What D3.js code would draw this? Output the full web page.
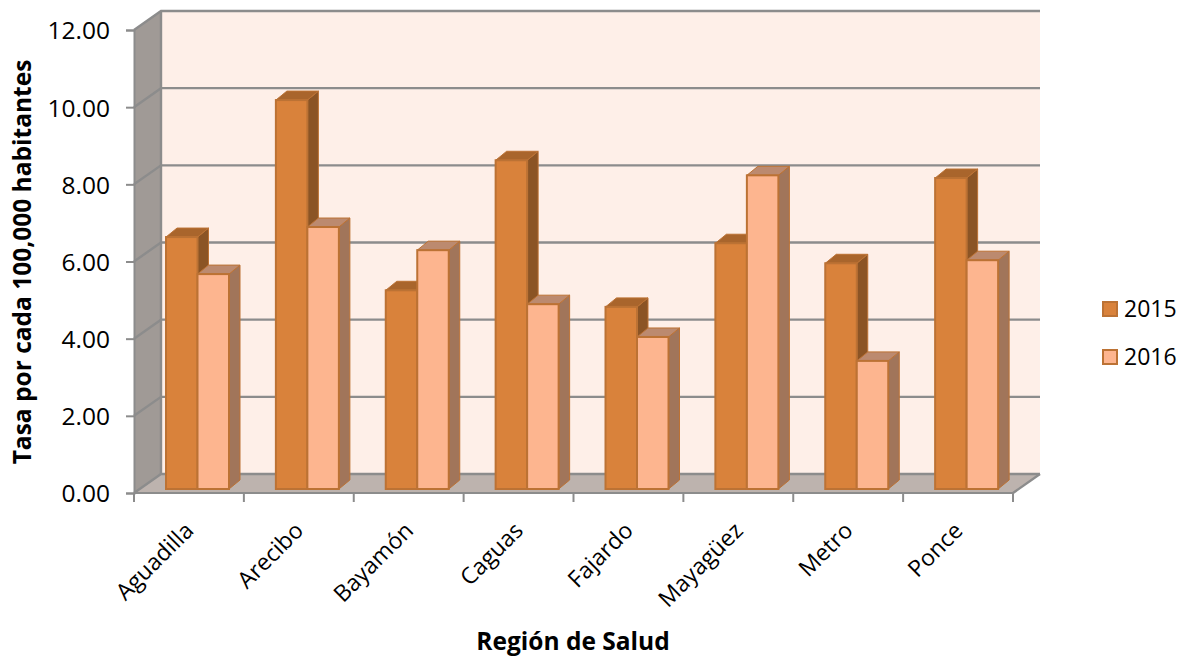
<!DOCTYPE html>
<html><head><meta charset="utf-8">
<script src="https://cdn.jsdelivr.net/npm/d3@7"></script>
<style>html,body{margin:0;background:#fff}svg{display:block}text{font-family:"Open Sans",sans-serif;fill:#000}</style>
</head><body><svg id="c" width="1185" height="656"></svg>
<script>
const categories=["Aguadilla","Arecibo","Bayamón","Caguas","Fajardo","Mayagüez","Metro","Ponce"];
const series2015=[6.53,10.08,5.15,8.52,4.72,6.37,5.85,8.06];
const series2016=[5.57,6.79,6.19,4.79,3.94,8.13,3.32,5.93];
const seriesNames=["2015","2016"];
const yTicks=[0,2,4,6,8,10,12];
const titleY="Tasa por cada 100,000 habitantes";
const titleX="Región de Salud";

const W={x0:134,x1:1013,y0:493,y1:30,dx:27,dy:-19};
const svg=d3.select("#c");
const x=d3.scaleBand().domain(categories).range([W.x0,W.x1]);
const y=d3.scaleLinear().domain([0,12]).range([W.y0,W.y1]);
const barBase=-4;
const sub=d3.scaleBand().domain(seriesNames).range([32,95]);
const bd={dx:11,dy:-9};
const colors={
 "2015":{front:"#D9823B",top:"#A9652C",side:"#8B5425"},
 "2016":{front:"#FDB58F",top:"#BC8A6F",side:"#A1755A"}};
const stroke="#BC7234";
const poly=p=>p.map(a=>a.join(",")).join(" ");

svg.append("polygon").attr("fill","#FEEFE8").attr("points",poly([[W.x0+W.dx,W.y1+W.dy],[W.x1+W.dx,W.y1+W.dy],[W.x1+W.dx,W.y0+W.dy],[W.x0+W.dx,W.y0+W.dy]]));
svg.append("polygon").attr("fill","#A09A96").attr("points",poly([[W.x0,W.y1],[W.x0+W.dx,W.y1+W.dy],[W.x0+W.dx,W.y0+W.dy],[W.x0,W.y0]]));
svg.append("polygon").attr("fill","#BDB3AE").attr("points",poly([[W.x0,W.y0],[W.x0+W.dx,W.y0+W.dy],[W.x1+W.dx,W.y0+W.dy],[W.x1,W.y0]]));

const grid=svg.append("g").attr("fill","none").attr("stroke","#8C8C8C").attr("stroke-width",2.4);
grid.selectAll("polyline").data(yTicks).join("polyline")
 .attr("points",d=>poly([[W.x0,y(d)],[W.x0+W.dx,y(d)+W.dy],[W.x1+W.dx,y(d)+W.dy]]));
grid.append("line").attr("x1",W.x0+W.dx).attr("x2",W.x0+W.dx).attr("y1",W.y1+W.dy).attr("y2",W.y0+W.dy);
grid.append("line").attr("x1",W.x1).attr("x2",W.x1+W.dx).attr("y1",W.y0).attr("y2",W.y0+W.dy);

const rows=categories.flatMap((c,i)=>[{c,s:"2015",v:series2015[i]},{c,s:"2016",v:series2016[i]}]);
const bars=svg.append("g").selectAll("g").data(rows).join("g");
const X0=d=>x(d.c)+sub(d.s), X1=d=>X0(d)+sub.bandwidth(), T=d=>y(d.v)+barBase, B=()=>y(0)+barBase;
bars.append("polygon").attr("fill",d=>colors[d.s].side).attr("stroke",stroke).attr("stroke-width",1)
 .attr("points",d=>poly([[X1(d),T(d)],[X1(d)+bd.dx,T(d)+bd.dy],[X1(d)+bd.dx,B()+bd.dy],[X1(d),B()]]));
bars.append("polygon").attr("fill",d=>colors[d.s].top).attr("stroke",stroke).attr("stroke-width",1)
 .attr("points",d=>poly([[X0(d),T(d)],[X0(d)+bd.dx,T(d)+bd.dy],[X1(d)+bd.dx,T(d)+bd.dy],[X1(d),T(d)]]));
bars.append("rect").attr("fill",d=>colors[d.s].front).attr("stroke",stroke).attr("stroke-width",2)
 .attr("x",X0).attr("y",T).attr("width",sub.bandwidth()).attr("height",d=>B()-T(d));

const ay=svg.append("g").attr("transform",`translate(${W.x0},0)`)
 .call(d3.axisLeft(y).tickValues(yTicks).tickFormat(d3.format(".2f")).tickSize(8).tickPadding(16));
const ax=svg.append("g").attr("transform",`translate(0,${W.y0})`)
 .call(d3.axisBottom(x).tickSize(0).tickFormat(d=>d));
ax.selectAll(".tick line").remove();
ax.select(".domain").remove();
const xEdges=d3.range(categories.length+1).map(i=>W.x0+i*x.bandwidth());
ax.selectAll("line.t").data(xEdges).join("line").attr("class","t").attr("x1",d=>d).attr("x2",d=>d).attr("y1",0).attr("y2",9).attr("stroke","#8C8C8C").attr("stroke-width",2);
ax.append("line").attr("x1",W.x0).attr("x2",W.x1).attr("stroke","#8C8C8C").attr("stroke-width",2);
ay.selectAll("line,path").attr("stroke","#8C8C8C").attr("stroke-width",2);
ay.selectAll("text").style("font-size","24.5px").style("font-family",'"Open Sans",sans-serif').attr("fill","#000").attr("y",1);
ax.selectAll(".tick text").style("font-size","23px").style("font-family",'"Open Sans",sans-serif').attr("fill","#000")
 .attr("text-anchor","end").attr("dy",0).attr("y",0)
 .attr("transform","translate(6,39) rotate(-45)");

svg.append("text").attr("transform","translate(31,262) rotate(-90)").attr("text-anchor","middle").attr("font-weight",700).attr("font-size",24.5).text(titleY);
svg.append("text").attr("x",573).attr("y",650).attr("text-anchor","middle").attr("font-weight",700).attr("font-size",24.5).text(titleX);

const lg=svg.append("g").selectAll("g").data(seriesNames).join("g").attr("transform",(d,i)=>`translate(1102,${301+i*48})`);
lg.append("rect").attr("x",1).attr("y",1).attr("width",14).attr("height",14).attr("fill",d=>colors[d].front).attr("stroke",stroke).attr("stroke-width",2);
lg.append("text").attr("x",22).attr("y",16).attr("font-size",23).text(d=>d);
</script></body></html>
